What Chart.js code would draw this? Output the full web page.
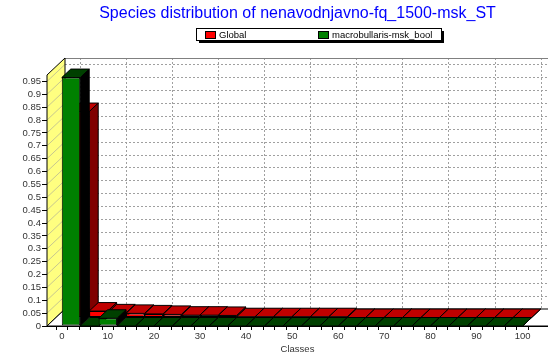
<!DOCTYPE html>
<html>
<head>
<meta charset="utf-8">
<title>Species distribution</title>
<script src="https://cdn.jsdelivr.net/npm/chart.js@4.4.1/dist/chart.umd.min.js"></script>
<style>
  html, body { margin: 0; padding: 0; background: #fff; }
  canvas { display: block; }
</style>
</head>
<body>
<canvas id="speciesChart" width="548" height="357"></canvas>
<script>
// class midpoints, classes are 4 units wide over 0..100
const classMids = [2, 6, 10, 14, 18, 22, 26, 30, 34, 38, 42, 46, 50, 54, 58, 62, 66, 70, 74, 78, 82, 86, 90, 94, 98];
const globalValues = [0.80, 0.025, 0.018, 0.016, 0.014, 0.012, 0.009, 0.009, 0.008, 0.003, 0.003, 0.003, 0.003, 0.003, 0.003, 0, 0, 0, 0, 0, 0, 0, 0, 0, 0];
const maskValues = [0.965, 0, 0.03, 0, 0, 0, 0, 0, 0, 0, 0, 0, 0, 0, 0, 0, 0, 0, 0, 0, 0, 0, 0, 0, 0];
const seriesNames = ["Global", "macrobullaris-msk_bool"];
const xLabels = [0, 10, 20, 30, 40, 50, 60, 70, 80, 90, 100];
const yTicks = [0, 0.05, 0.1, 0.15, 0.2, 0.25, 0.3, 0.35, 0.4, 0.45, 0.5, 0.55, 0.6, 0.65, 0.7, 0.75, 0.8, 0.85, 0.9, 0.95];

// minor tick marks every quarter of a label step
const xTickMarks = [];
xLabels.forEach((v, i) => {
  xTickMarks.push(v);
  if (i < xLabels.length - 1) {
    const step = (xLabels[i + 1] - v) / 4;
    xTickMarks.push(v + step, v + 2 * step, v + 3 * step);
  }
});

const frontColors = ["#ff0000", "#008000"];
const topColors = ["#c00000", "#004000"];
const sideColors = ["#800000", "#000000"];

// depth of one series row in the pseudo 3D box
const ROW_DX = 9;
const ROW_DY = 8.5;
const ROWS = 2;

Chart.defaults.font.family = "'Liberation Sans', Arial, sans-serif";

function poly(ctx, pts) {
  ctx.beginPath();
  ctx.moveTo(pts[0][0], pts[0][1]);
  for (let i = 1; i < pts.length; i++) ctx.lineTo(pts[i][0], pts[i][1]);
  ctx.closePath();
}

// walls, floor and the dotted grid behind the bars
const box3d = {
  id: "box3d",
  beforeDatasetsDraw(chart) {
    const { ctx, chartArea: a, scales } = chart;
    const dx = ROW_DX * ROWS, dy = ROW_DY * ROWS;
    ctx.save();

    // back wall
    ctx.fillStyle = "#ffffff";
    ctx.fillRect(a.left + dx, a.top - dy, a.right - a.left, a.bottom - a.top);

    ctx.lineWidth = 1;
    ctx.strokeStyle = "#a0a0a0";
    ctx.setLineDash([2, 2]);
    yTicks.forEach((v) => {
      const py = Math.round(scales.y.getPixelForValue(v) - dy) + 0.5;
      ctx.beginPath();
      ctx.moveTo(a.left + dx, py);
      ctx.lineTo(a.right + dx, py);
      ctx.stroke();
    });
    xLabels.forEach((v) => {
      const px = Math.round(scales.x.getPixelForValue(v) + dx) + 0.5;
      ctx.beginPath();
      ctx.moveTo(px, a.top - dy);
      ctx.lineTo(px, a.bottom - dy);
      ctx.stroke();
    });
    ctx.setLineDash([]);

    // top edge of back wall
    ctx.strokeStyle = "#808080";
    ctx.beginPath();
    ctx.moveTo(a.left + dx, Math.round(a.top - dy) + 0.5);
    ctx.lineTo(a.right + dx, Math.round(a.top - dy) + 0.5);
    ctx.stroke();

    // left wall
    ctx.fillStyle = "#ffff80";
    poly(ctx, [[a.left, a.bottom], [a.left + dx, a.bottom - dy], [a.left + dx, a.top - dy], [a.left, a.top]]);
    ctx.fill();
    ctx.strokeStyle = "#c8c890";
    yTicks.forEach((v) => {
      const py = scales.y.getPixelForValue(v);
      ctx.beginPath();
      ctx.moveTo(a.left, py);
      ctx.lineTo(a.left + dx, py - dy);
      ctx.stroke();
    });
    ctx.strokeStyle = "#000000";
    poly(ctx, [[a.left, a.bottom], [a.left + dx, a.bottom - dy], [a.left + dx, a.top - dy], [a.left, a.top]]);
    ctx.stroke();

    // floor
    ctx.fillStyle = "#ffffff";
    poly(ctx, [[a.left, a.bottom], [a.left + dx, a.bottom - dy], [a.right + dx, a.bottom - dy], [a.right, a.bottom]]);
    ctx.fill();
    ctx.stroke();
    ctx.restore();
  },
  // back row is shifted into depth, top and side faces go under the library's front faces
  beforeDatasetDraw(chart, args) {
    const { ctx } = chart;
    const i = args.index;
    const row = i === 0 ? 1 : 0;
    ctx.save();
    ctx.translate(row * ROW_DX, -row * ROW_DY);
    ctx.lineWidth = 1;
    ctx.strokeStyle = "#000000";
    args.meta.data.forEach((bar) => {
      const { x, y, base, width } = bar.getProps(["x", "y", "base", "width"], true);
      const l = x - width / 2, r = x + width / 2;
      ctx.fillStyle = sideColors[i];
      poly(ctx, [[r, y], [r + ROW_DX, y - ROW_DY], [r + ROW_DX, base - ROW_DY], [r, base]]);
      ctx.fill();
      ctx.stroke();
      ctx.fillStyle = topColors[i];
      poly(ctx, [[l, y], [r, y], [r + ROW_DX, y - ROW_DY], [l + ROW_DX, y - ROW_DY]]);
      ctx.fill();
      ctx.stroke();
    });
  },
  afterDatasetDraw(chart) {
    chart.ctx.restore();
  }
};

// framed legend with a drop shadow
const boxedLegend = {
  id: "boxedLegend",
  afterDraw(chart) {
    const { ctx } = chart;
    const bx = 196, by = 28, bw = 245, bh = 12, colWidth = 113;
    ctx.save();
    ctx.fillStyle = "#000000";
    ctx.fillRect(bx + 3, by + 3, bw, bh);
    ctx.fillStyle = "#ffffff";
    ctx.fillRect(bx, by, bw, bh);
    ctx.strokeStyle = "#000000";
    ctx.lineWidth = 1;
    ctx.strokeRect(bx + 0.5, by + 0.5, bw, bh);
    ctx.font = "9.5px 'Liberation Sans', Arial, sans-serif";
    ctx.textBaseline = "middle";
    chart.data.datasets.forEach((ds, i) => {
      const sx = bx + 9 + i * colWidth;
      ctx.fillStyle = frontColors[i];
      ctx.fillRect(sx, by + 3, 10, 7);
      ctx.strokeRect(sx + 0.5, by + 3.5, 10, 7);
      ctx.fillStyle = "#000000";
      ctx.fillText(ds.label, sx + 14, by + bh / 2 + 1);
    });
    ctx.restore();
  }
};

// the bar ruler takes the minor tick spacing (2.5) as its unit, classes are 4 wide
const barStyle = {
  borderColor: "#000000",
  borderWidth: 1,
  borderSkipped: false,
  grouped: false,
  barPercentage: 4 / 2.5,
  categoryPercentage: 1,
  clip: false
};

new Chart(document.getElementById("speciesChart"), {
  type: "bar",
  data: {
    datasets: [
      {
        ...barStyle,
        label: seriesNames[0],
        data: classMids.map((m, i) => ({ x: m, y: globalValues[i] })),
        backgroundColor: frontColors[0],
        order: 2
      },
      {
        ...barStyle,
        label: seriesNames[1],
        data: classMids.map((m, i) => ({ x: m, y: maskValues[i] })),
        backgroundColor: frontColors[1],
        order: 1
      }
    ]
  },
  options: {
    responsive: false,
    animation: false,
    events: [],
    layout: { padding: { left: 0, right: -7, top: 0, bottom: 0 } },
    plugins: {
      legend: { display: false },
      tooltip: { enabled: false },
      title: {
        display: true,
        fullSize: false,
        text: "Species distribution of nenavodnjavno-fq_1500-msk_ST",
        color: "#0000ff",
        font: { size: 16, weight: "normal" },
        padding: { top: 4, bottom: 51.8 }
      }
    },
    scales: {
      x: {
        type: "linear",
        min: -1.88,
        max: 104.18,
        afterFit: (s) => { s.height = 31; },
        afterBuildTicks: (s) => { s.ticks = xTickMarks.map((v) => ({ value: v })); },
        grid: { drawOnChartArea: false, tickLength: 4, color: "#000000" },
        border: { display: true, color: "#000000" },
        ticks: {
          autoSkip: false,
          maxRotation: 0,
          padding: 1,
          color: "#333333",
          font: { size: 9.5 },
          callback: (v) => (xLabels.includes(v) ? String(v) : "")
        },
        title: {
          display: true,
          text: "Classes",
          color: "#333333",
          font: { size: 9.5 },
          padding: { top: 0, bottom: 2 }
        }
      },
      y: {
        min: 0,
        max: 0.975,
        afterFit: (s) => { s.width = 47; },
        afterBuildTicks: (s) => { s.ticks = yTicks.map((v) => ({ value: v })); },
        grid: { drawOnChartArea: false, tickLength: 5, color: "#000000" },
        border: { display: true, color: "#000000" },
        ticks: {
          autoSkip: false,
          padding: 1,
          color: "#333333",
          font: { size: 9.5 },
          callback: (v) => String(v)
        }
      }
    }
  },
  plugins: [box3d, boxedLegend]
});
</script>
</body>
</html>
